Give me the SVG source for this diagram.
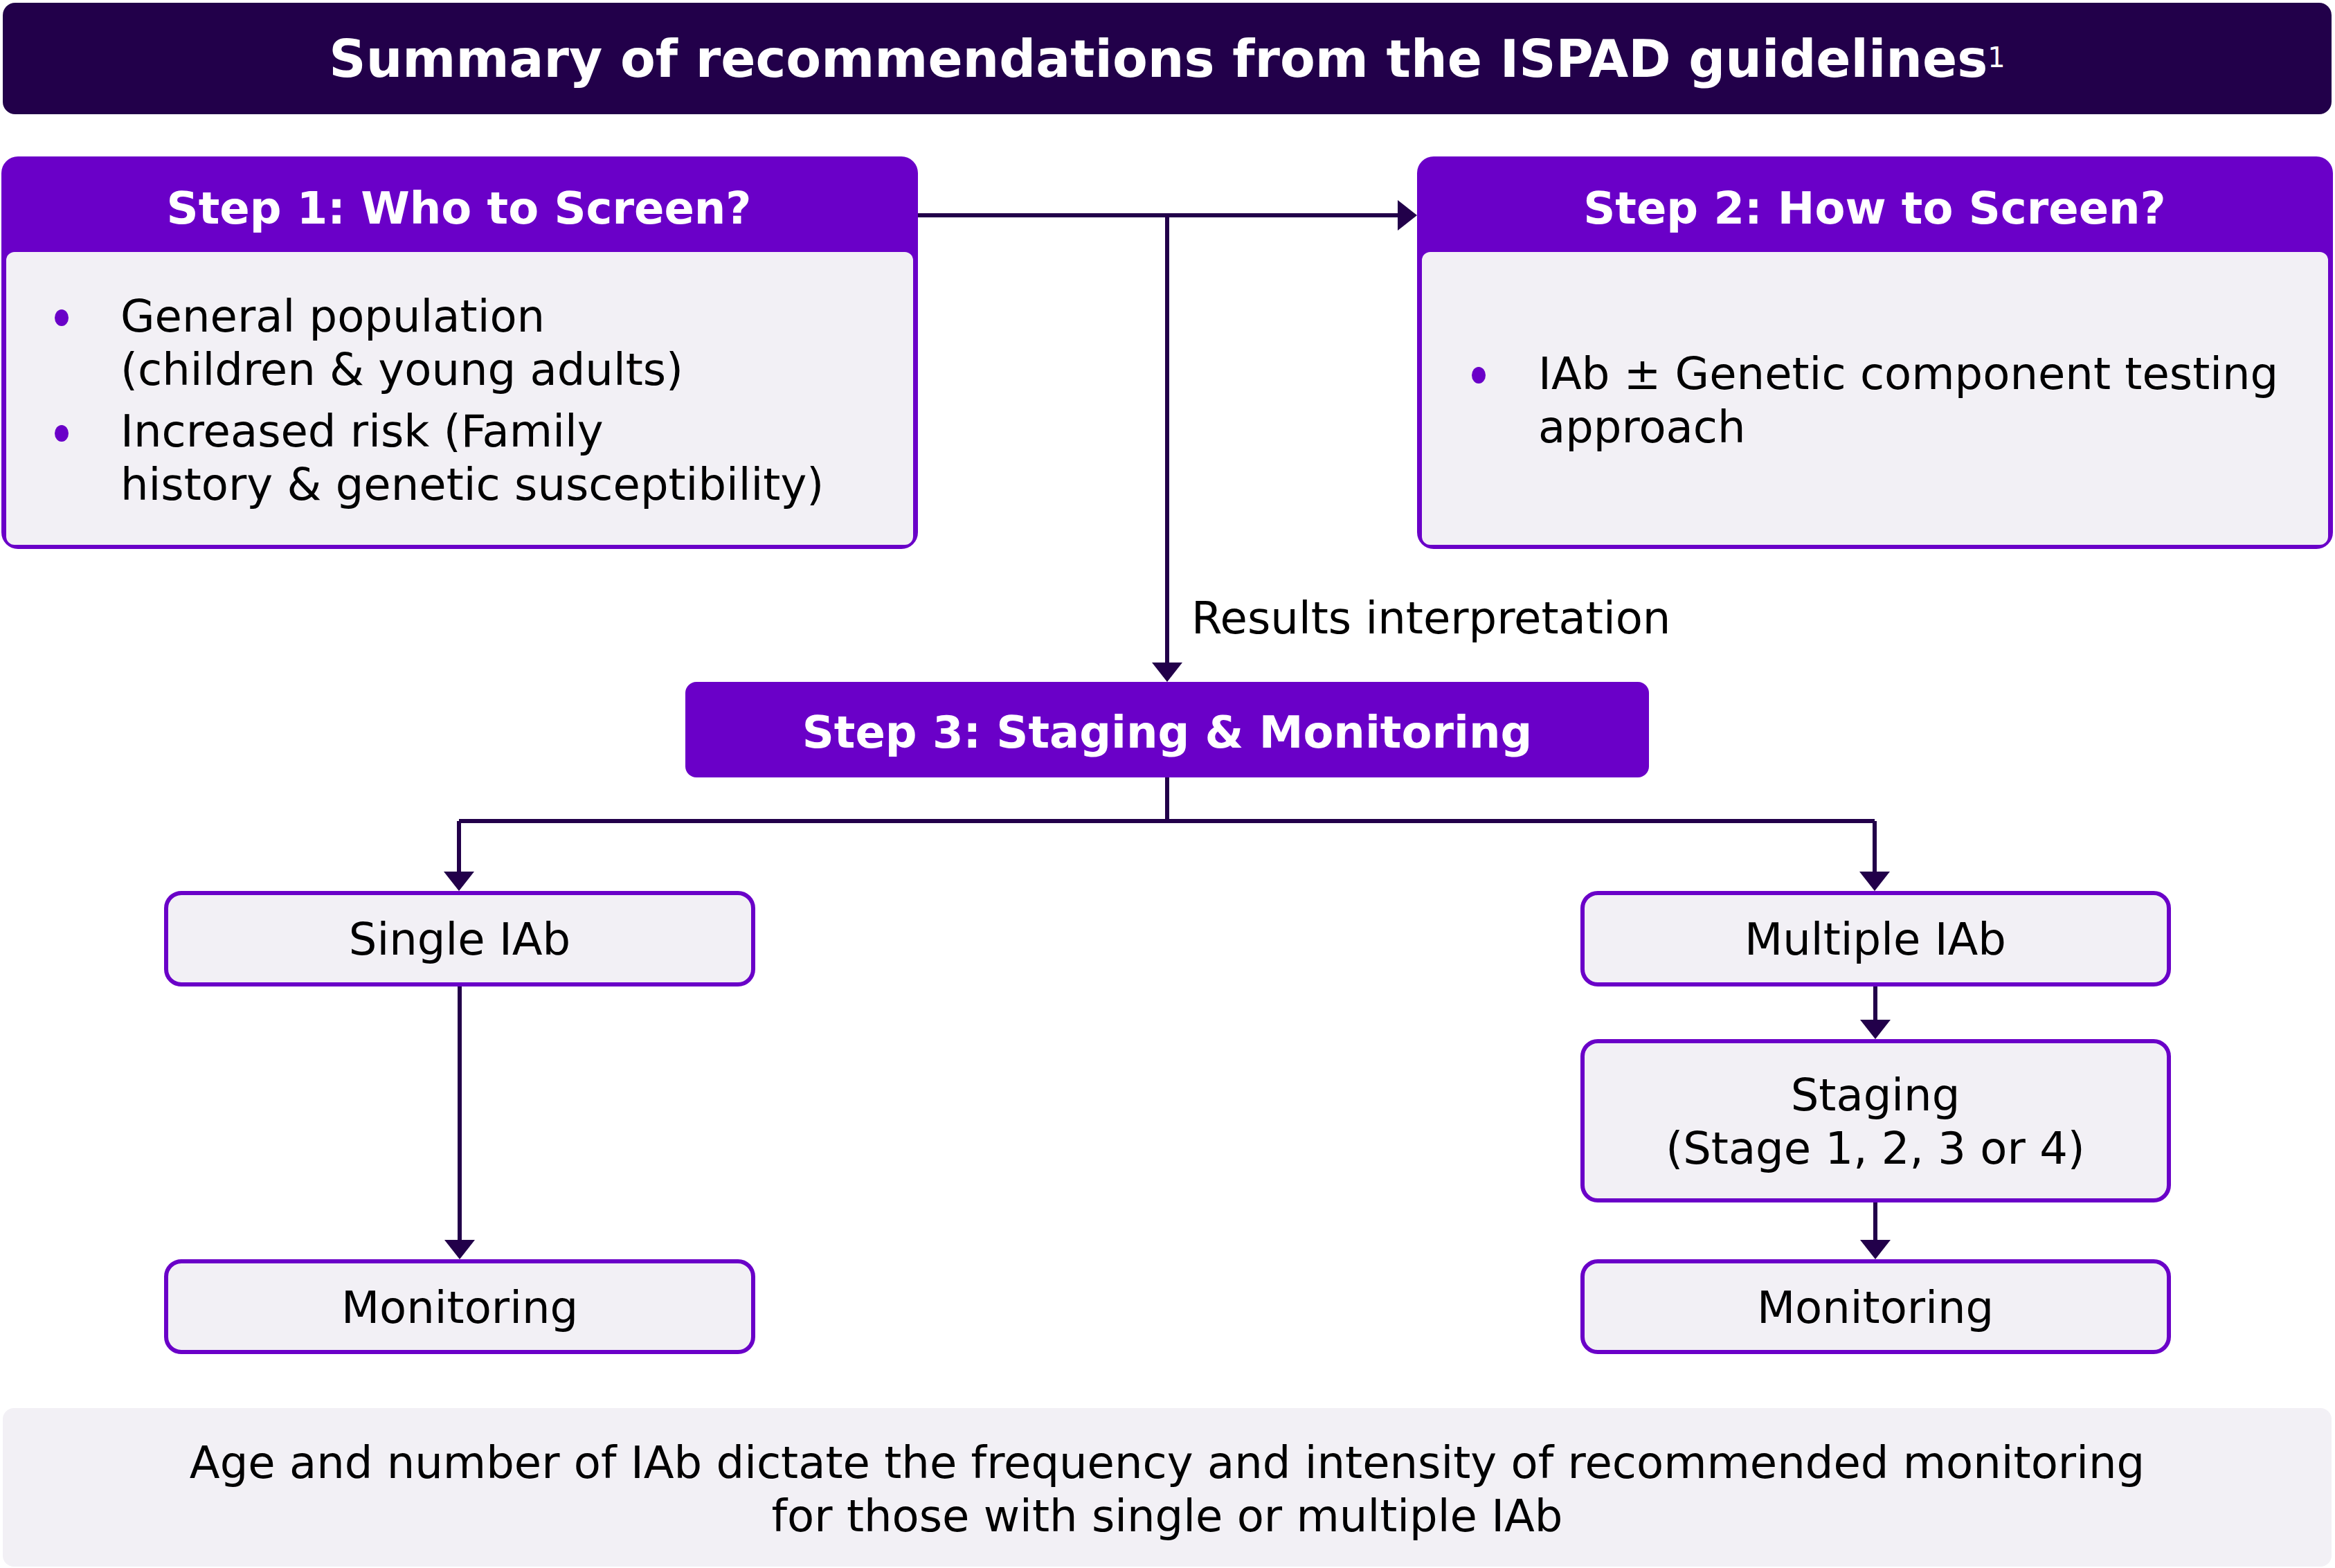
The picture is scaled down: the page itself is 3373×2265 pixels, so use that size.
<svg xmlns="http://www.w3.org/2000/svg" width="3373" height="2265" viewBox="0 0 3373 2265">
<style>
  .t { font-family: "DejaVu Sans", Verdana, sans-serif; font-size: 64px; fill: #000; }
  .b { font-family: "DejaVu Sans", Verdana, sans-serif; font-size: 64px; font-weight: bold; fill: #fff; }
  .ttl { font-family: "DejaVu Sans", Verdana, sans-serif; font-size: 74px; font-weight: bold; fill: #fff; }
  .sup { font-size: 40px; font-weight: normal; }
  .box { fill: #f2f0f5; stroke: #6a00c8; stroke-width: 6; }
  .hdr { fill: #6a00c8; }
  .body { fill: #f2f0f5; }
  .bul { fill: #6a00c8; }
  .conn { fill: none; stroke: #22004a; stroke-width: 6; }
</style>
<defs>
  <marker id="ah" viewBox="0 0 28 44" markerWidth="28" markerHeight="44" refX="8" refY="22" orient="auto" markerUnits="userSpaceOnUse">
    <path d="M0,0 L28,22 L0,44 z" fill="#22004a"/>
  </marker>
</defs>
<rect width="3373" height="2265" fill="#fff"/>

<g id="title">
  <rect x="4" y="4" width="3364" height="161" rx="18" fill="#22004a"/>
  <text class="ttl" x="1686" y="111" text-anchor="middle">Summary of recommendations from the ISPAD guidelines<tspan class="sup" dy="-14">1</tspan></text>
</g>

<g id="connectors">
  <path class="conn" d="M1326,311 H2027" marker-end="url(#ah)"/>
  <path class="conn" d="M1686,311 V965" marker-end="url(#ah)"/>
  <path class="conn" d="M1686,1123 V1186"/>
  <path class="conn" d="M663,1186 H2708"/>
  <path class="conn" d="M663,1186 V1267" marker-end="url(#ah)"/>
  <path class="conn" d="M2708,1186 V1267" marker-end="url(#ah)"/>
  <path class="conn" d="M664,1422 V1799" marker-end="url(#ah)"/>
  <path class="conn" d="M2709,1422 V1481" marker-end="url(#ah)"/>
  <path class="conn" d="M2709,1734 V1799" marker-end="url(#ah)"/>
  <text class="t" x="1721" y="915">Results interpretation</text>
</g>

<g id="step1">
  <rect class="hdr" x="2" y="226" width="1324" height="567" rx="24"/>
  <rect class="body" x="9" y="364" width="1310" height="423" rx="12"/>
  <text class="b" x="663" y="323" text-anchor="middle">Step 1: Who to Screen?</text>
  <ellipse class="bul" cx="89" cy="459" rx="10" ry="12"/>
  <text class="t" x="174" y="479">General population</text>
  <text class="t" x="174" y="556">(children &amp; young adults)</text>
  <ellipse class="bul" cx="89" cy="626" rx="10" ry="12"/>
  <text class="t" x="174" y="645">Increased risk (Family</text>
  <text class="t" x="174" y="722">history &amp; genetic susceptibility)</text>
</g>

<g id="step2">
  <rect class="hdr" x="2047" y="226" width="1323" height="567" rx="24"/>
  <rect class="body" x="2054" y="364" width="1309" height="423" rx="12"/>
  <text class="b" x="2708" y="323" text-anchor="middle">Step 2: How to Screen?</text>
  <ellipse class="bul" cx="2136" cy="542" rx="10" ry="12"/>
  <text class="t" x="2222" y="562">IAb ± Genetic component testing</text>
  <text class="t" x="2222" y="639">approach</text>
</g>

<g id="step3">
  <rect class="hdr" x="990" y="985" width="1392" height="138" rx="16"/>
  <text class="b" x="1686" y="1080" text-anchor="middle">Step 3: Staging &amp; Monitoring</text>
</g>

<g id="single">
  <rect class="box" x="240" y="1290" width="848" height="132" rx="22"/>
  <text class="t" x="664" y="1379" text-anchor="middle">Single IAb</text>
</g>

<g id="monitoring-left">
  <rect class="box" x="240" y="1822" width="848" height="131" rx="22"/>
  <text class="t" x="664" y="1911" text-anchor="middle">Monitoring</text>
</g>

<g id="multiple">
  <rect class="box" x="2286" y="1290" width="847" height="132" rx="22"/>
  <text class="t" x="2709" y="1379" text-anchor="middle">Multiple IAb</text>
</g>

<g id="staging">
  <rect class="box" x="2286" y="1504" width="847" height="230" rx="22"/>
  <text class="t" x="2709" y="1604" text-anchor="middle">Staging</text>
  <text class="t" x="2709" y="1681" text-anchor="middle">(Stage 1, 2, 3 or 4)</text>
</g>

<g id="monitoring-right">
  <rect class="box" x="2286" y="1822" width="847" height="131" rx="22"/>
  <text class="t" x="2709" y="1911" text-anchor="middle">Monitoring</text>
</g>

<g id="footer">
  <rect x="4" y="2034" width="3364" height="229" rx="16" fill="#f2f0f5"/>
  <text class="t" x="1686" y="2135" text-anchor="middle">Age and number of IAb dictate the frequency and intensity of recommended monitoring</text>
  <text class="t" x="1686" y="2212" text-anchor="middle">for those with single or multiple IAb</text>
</g>
</svg>
